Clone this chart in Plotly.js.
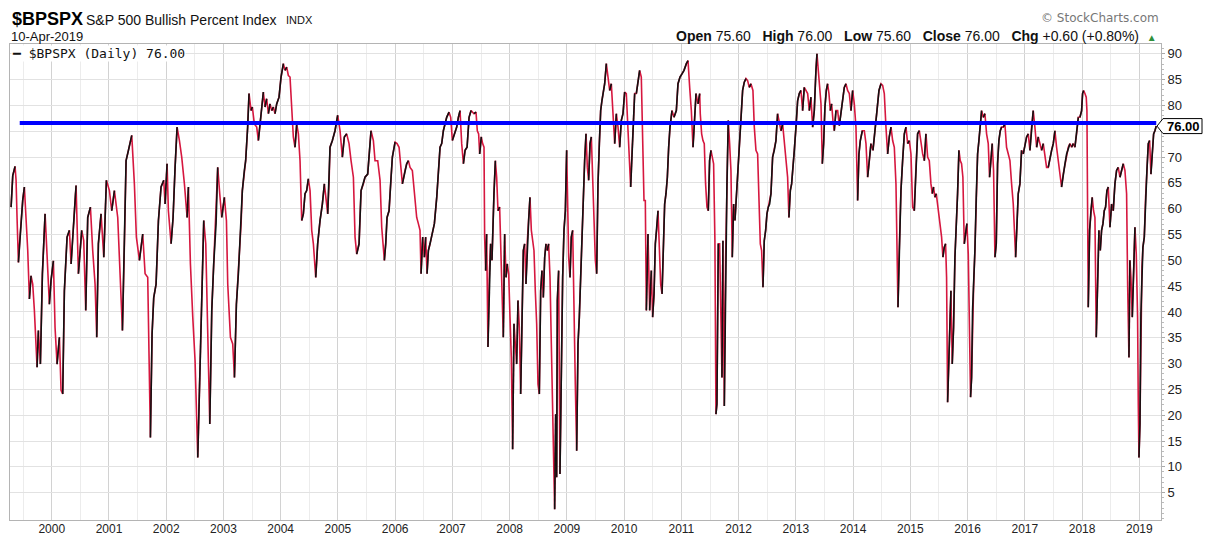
<!DOCTYPE html>
<html>
<head>
<meta charset="utf-8">
<script src="https://cdn.plot.ly/plotly-3.0.1.min.js"></script>
<style>
  html, body { margin: 0; padding: 0; background: #fff; }
  #chart { width: 1225px; height: 538px; }
</style>
</head>
<body>
<div id="chart"></div>
<script>
// $BPSPX daily values, dates as decimal years
var dates9903 = [
  1999.290,1999.319,1999.359,1999.377,1999.394,1999.418,1999.441,1999.464,1999.493,1999.522,
  1999.552,1999.581,1999.610,1999.639,1999.668,1999.697,1999.744,1999.767,1999.802,1999.837,
  1999.884,1999.918,1999.959,1999.988,2000.029,2000.058,2000.093,2000.134,2000.163,2000.192,
  2000.221,2000.268,2000.309,2000.338,2000.373,2000.425,2000.466,2000.524,2000.559,2000.594,
  2000.629,2000.676,2000.716,2000.757,2000.786,2000.815,2000.862,2000.909,2000.955,2001.008,
  2001.048,2001.095,2001.153,2001.211,2001.235,2001.270,2001.299,2001.340,2001.398,2001.444,
  2001.479,2001.532,2001.590,2001.631,2001.677,2001.724,2001.753,2001.782,2001.823,2001.864,
  2001.910,2001.957,2001.980,2002.015,2002.038,2002.085,2002.120,2002.155,2002.190,2002.231,
  2002.271,2002.318,2002.365,2002.388,2002.423,2002.464,2002.504,2002.551,2002.586,2002.621,
  2002.656,2002.691,2002.726,2002.761,2002.796,2002.830,2002.871,2002.900,2002.935,2002.970,
  2003.017,2003.052,2003.075,2003.122,2003.162,2003.192,2003.226,2003.261,2003.308
];
var bpi9903 = [
  60.3,66.4,68.2,65.5,58.3,49.6,53.8,57.4,61.6,64.2,
  57.7,51.9,42.5,47.0,45.4,40.3,29.3,36.4,29.9,47.4,
  59.0,50.6,41.5,46.1,49.9,37.0,29.9,35.1,24.8,24.1,
  44.1,54.5,55.8,49.3,55.8,64.5,47.4,55.8,53.8,40.3,
  58.3,60.3,51.9,45.4,35.1,53.2,59.0,50.6,65.5,63.5,
  59.6,63.5,58.3,44.8,36.4,53.2,69.3,71.3,74.2,64.8,
  54.5,50.0,55.1,47.4,46.7,15.7,35.7,42.8,45.4,57.7,
  64.2,65.5,60.9,68.7,59.6,53.2,58.3,68.0,75.8,73.2,
  70.0,64.8,58.3,64.2,49.3,39.0,30.6,11.8,27.3,42.8,
  57.7,53.2,31.9,18.3,40.3,49.3,57.1,68.0,62.9,58.3,
  62.2,57.7,45.4,35.1,33.8,27.3,41.5,47.4,57.1
];

var dates0307 = [
  2003.330,2003.365,2003.388,2003.423,2003.447,2003.482,2003.505,2003.540,2003.581,2003.610,
  2003.639,2003.668,2003.697,2003.726,2003.755,2003.785,2003.814,2003.843,2003.872,2003.901,
  2003.930,2003.971,2004.006,2004.047,2004.076,2004.105,2004.134,2004.163,2004.192,2004.221,
  2004.250,2004.280,2004.309,2004.338,2004.367,2004.396,2004.425,2004.454,2004.483,2004.513,
  2004.542,2004.571,2004.612,2004.646,2004.687,2004.728,2004.763,2004.786,2004.821,2004.844,
  2004.862,2004.903,2004.949,2004.996,2005.037,2005.077,2005.112,2005.153,2005.194,2005.229,
  2005.270,2005.299,2005.328,2005.369,2005.404,2005.444,2005.473,2005.520,2005.543,2005.578,
  2005.619,2005.648,2005.695,2005.736,2005.765,2005.794,2005.811,2005.835,2005.858,2005.893,
  2005.928,2005.951,2005.998,2006.033,2006.068,2006.102,2006.126,2006.172,2006.201,2006.231,
  2006.260,2006.300,2006.335,2006.376,2006.405,2006.434,2006.452,2006.481,2006.510,2006.533,
  2006.557,2006.580,2006.609,2006.638,2006.685,2006.726,2006.755,2006.784,2006.813,2006.842,
  2006.871,2006.900,2006.941,2006.970,2006.999,2007.034,2007.075,2007.104,2007.133,2007.162,
  2007.192,2007.221,2007.256,2007.291,2007.326
];
var bpi0307 = [
  63.5,67.4,69.3,75.8,82.3,79.0,79.7,76.4,75.8,73.2,
  76.4,80.6,82.6,79.7,81.3,78.4,80.3,79.0,79.7,78.4,
  80.3,81.6,85.5,88.1,86.8,87.4,85.8,85.5,79.0,73.9,
  71.9,76.4,74.5,69.3,57.7,59.0,62.9,63.5,65.8,63.5,
  55.8,53.2,46.7,53.2,57.7,60.9,64.8,62.2,59.0,64.8,
  71.9,73.2,75.1,78.1,75.1,70.0,73.9,74.5,72.6,69.3,
  66.1,54.5,51.2,53.2,63.5,64.8,66.1,66.7,70.6,75.1,
  73.2,69.3,69.3,65.5,56.4,51.9,50.0,53.2,58.3,59.6,
  66.1,70.0,72.9,72.6,71.9,67.4,64.8,67.4,68.7,69.3,
  68.0,67.4,63.5,58.3,57.1,55.8,47.4,54.5,50.6,54.5,
  47.4,51.9,53.2,54.5,57.1,62.2,68.0,71.9,72.6,75.1,
  76.4,77.7,78.7,77.7,73.2,74.5,75.8,77.7,79.0,72.6,
  68.7,71.3,71.9,77.7,79.0
];

var dates0711 = [
  2007.377,2007.412,2007.435,2007.458,2007.476,2007.505,2007.528,2007.552,2007.563,2007.581,
  2007.598,2007.621,2007.645,2007.668,2007.691,2007.709,2007.726,2007.750,2007.773,2007.796,
  2007.825,2007.843,2007.866,2007.889,2007.913,2007.936,2007.959,2007.983,2008.006,2008.029,
  2008.052,2008.076,2008.099,2008.122,2008.146,2008.169,2008.192,2008.215,2008.239,2008.262,
  2008.285,2008.309,2008.332,2008.355,2008.379,2008.402,2008.425,2008.448,2008.472,2008.495,
  2008.518,2008.542,2008.565,2008.588,2008.612,2008.635,2008.658,2008.681,2008.705,2008.728,
  2008.751,2008.769,2008.786,2008.804,2008.821,2008.833,2008.856,2008.879,2008.903,2008.926,
  2008.949,2008.973,2008.996,2009.013,2009.031,2009.054,2009.077,2009.101,2009.124,2009.147,
  2009.171,2009.194,2009.217,2009.241,2009.264,2009.287,2009.310,2009.334,2009.357,2009.380,
  2009.404,2009.427,2009.450,2009.473,2009.497,2009.520,2009.543,2009.567,2009.590,2009.613,
  2009.637,2009.660,2009.689,2009.718,2009.747,2009.776,2009.805,2009.835,2009.864,2009.893,
  2009.922,2009.951,2009.980,2010.009,2010.038,2010.068,2010.097,2010.114,2010.137,2010.161,
  2010.184,2010.213,2010.242,2010.271,2010.300,2010.330,2010.347,2010.370,2010.388,2010.417,
  2010.446,2010.475,2010.498,2010.522,2010.545,2010.568,2010.592,2010.615,2010.638,2010.662,
  2010.685,2010.708,2010.731,2010.755,2010.778,2010.801,2010.836,2010.871,2010.912,2010.941,
  2010.976,2011.011,2011.046,2011.087,2011.116,2011.145,2011.174,2011.203,2011.232,2011.256,
  2011.291,2011.320
];
var bpi0711 = [
  78.4,78.7,75.1,74.5,70.6,73.9,72.6,71.9,54.5,48.0,
  55.1,33.2,47.4,53.2,50.0,58.3,62.9,69.3,66.1,59.6,
  60.3,53.2,41.5,35.1,55.1,46.7,49.3,47.4,39.0,31.2,
  13.4,37.7,33.8,29.9,42.2,37.0,24.1,41.5,51.9,53.2,
  45.4,53.8,57.7,62.2,55.8,53.2,51.9,44.1,37.7,26.0,
  24.1,44.1,48.0,42.8,50.6,53.2,51.9,53.2,46.7,33.8,
  20.9,8.6,1.8,20.2,8.0,42.2,48.0,8.6,28.6,46.7,
  55.8,59.6,71.3,56.4,50.6,46.7,54.5,55.8,35.7,26.0,
  13.1,33.8,39.0,46.7,53.2,64.2,69.3,74.5,68.0,65.5,
  72.6,73.9,64.8,57.1,50.0,47.4,64.8,72.6,79.0,81.0,
  82.9,84.2,88.1,85.5,82.9,84.2,79.0,72.6,78.4,75.8,
  71.9,77.1,78.4,82.6,82.3,75.1,70.6,64.2,70.6,75.8,
  82.3,82.3,84.2,86.8,85.5,72.6,61.6,61.6,40.3,55.1,
  40.3,48.0,39.0,43.5,53.2,55.8,59.6,52.5,45.4,43.5,
  54.5,60.9,62.9,66.1,71.9,75.8,79.0,77.7,79.0,84.2,
  85.5,86.1,86.8,88.1,88.7,83.5,79.0,71.9,79.0,82.3,
  80.3,82.3
];

var dates1115 = [
  2011.330,2011.354,2011.377,2011.400,2011.423,2011.447,2011.470,2011.493,2011.517,2011.540,
  2011.563,2011.586,2011.604,2011.621,2011.645,2011.668,2011.691,2011.709,2011.726,2011.750,
  2011.773,2011.796,2011.819,2011.843,2011.866,2011.889,2011.913,2011.936,2011.959,2011.983,
  2012.012,2012.041,2012.070,2012.099,2012.128,2012.157,2012.186,2012.215,2012.250,2012.274,
  2012.303,2012.332,2012.355,2012.379,2012.402,2012.425,2012.448,2012.472,2012.495,2012.518,
  2012.542,2012.565,2012.594,2012.623,2012.652,2012.681,2012.711,2012.740,2012.769,2012.798,
  2012.827,2012.856,2012.879,2012.903,2012.926,2012.949,2012.973,2013.002,2013.031,2013.060,
  2013.089,2013.118,2013.147,2013.176,2013.206,2013.235,2013.264,2013.293,2013.322,2013.351,
  2013.369,2013.392,2013.415,2013.439,2013.462,2013.485,2013.508,2013.532,2013.555,2013.578,
  2013.602,2013.625,2013.648,2013.671,2013.701,2013.730,2013.759,2013.788,2013.817,2013.846,
  2013.875,2013.904,2013.934,2013.963,2013.992,2014.021,2014.050,2014.079,2014.102,2014.126,
  2014.161,2014.196,2014.225,2014.254,2014.283,2014.312,2014.347,2014.382,2014.417,2014.452,
  2014.487,2014.516,2014.545,2014.574,2014.603,2014.632,2014.662,2014.691,2014.720,2014.749,
  2014.766,2014.784,2014.801,2014.819,2014.836,2014.865,2014.895,2014.924,2014.953,2014.982,
  2015.011,2015.040,2015.069,2015.098,2015.127,2015.157,2015.186,2015.215,2015.244,2015.273,
  2015.302,2015.331,2015.360
];
var bpi1115 = [
  78.4,74.5,73.2,72.6,64.8,60.3,59.6,69.3,71.3,70.0,
  68.7,53.8,20.2,22.2,53.2,53.2,42.2,27.3,53.8,21.8,
  50.6,64.8,77.1,72.6,67.4,50.6,60.9,57.7,62.2,67.4,
  73.9,79.0,82.9,84.5,85.2,84.8,83.5,84.2,82.9,75.8,
  71.3,70.6,62.2,53.2,51.9,44.8,53.8,55.8,59.0,60.3,
  60.9,62.9,70.0,71.3,73.2,78.4,76.4,75.1,76.4,72.6,
  69.3,66.1,58.3,63.5,64.8,67.4,71.3,75.8,80.9,82.3,
  82.9,79.0,83.5,82.9,82.3,79.0,81.6,75.8,79.0,86.8,
  90.0,86.8,82.9,80.3,68.7,72.6,79.7,82.9,84.2,82.3,
  79.0,80.3,77.1,75.1,79.0,79.0,76.1,79.0,81.6,83.5,
  84.2,82.9,82.3,79.0,82.9,80.3,75.8,61.6,70.6,73.2,
  75.1,75.1,72.6,66.1,69.3,72.6,71.3,75.8,79.0,82.9,
  84.2,83.9,82.3,75.8,70.6,73.9,75.8,73.2,71.9,64.8,
  55.1,40.9,50.0,58.3,63.5,69.3,74.5,75.8,72.6,73.2,
  70.6,60.3,59.6,68.0,74.5,75.1,72.6,70.6,69.3,74.5,
  70.0,69.3,64.8
];

var dates1519 = [
  2015.383,2015.406,2015.429,2015.453,2015.476,2015.499,2015.522,2015.546,2015.569,2015.592,
  2015.616,2015.633,2015.651,2015.674,2015.691,2015.709,2015.732,2015.755,2015.779,2015.802,
  2015.825,2015.849,2015.872,2015.895,2015.918,2015.942,2015.965,2015.988,2016.012,2016.035,
  2016.052,2016.070,2016.087,2016.105,2016.128,2016.151,2016.175,2016.198,2016.221,2016.245,
  2016.274,2016.303,2016.332,2016.361,2016.384,2016.408,2016.431,2016.454,2016.478,2016.501,
  2016.524,2016.547,2016.571,2016.594,2016.623,2016.652,2016.681,2016.711,2016.740,2016.769,
  2016.798,2016.839,2016.862,2016.885,2016.914,2016.943,2016.973,2017.002,2017.031,2017.060,
  2017.089,2017.118,2017.147,2017.176,2017.206,2017.235,2017.264,2017.293,2017.322,2017.351,
  2017.380,2017.409,2017.439,2017.468,2017.497,2017.526,2017.555,2017.584,2017.613,2017.642,
  2017.671,2017.701,2017.730,2017.759,2017.788,2017.817,2017.846,2017.875,2017.904,2017.934,
  2017.963,2017.992,2018.009,2018.027,2018.050,2018.073,2018.085,2018.097,2018.108,2018.132,
  2018.155,2018.178,2018.201,2018.225,2018.248,2018.271,2018.295,2018.318,2018.341,2018.365,
  2018.388,2018.411,2018.434,2018.458,2018.487,2018.516,2018.545,2018.574,2018.603,2018.632,
  2018.662,2018.691,2018.720,2018.749,2018.778,2018.796,2018.819,2018.836,2018.854,2018.877,
  2018.900,2018.924,2018.947,2018.970,2018.982,2018.994,2019.011,2019.028,2019.046,2019.063,
  2019.087,2019.110,2019.133,2019.157,2019.180,2019.203,2019.226,2019.250,2019.273,2019.296
];
var bpi1519 = [
  62.9,64.2,62.2,62.9,60.9,58.3,55.8,54.5,50.6,52.5,
  53.2,46.7,22.5,31.9,37.0,44.1,29.9,37.0,50.6,55.8,
  62.9,71.3,69.3,68.7,66.1,53.2,55.8,57.1,51.2,31.2,
  23.5,27.3,40.3,44.8,51.9,62.2,70.6,73.2,76.4,79.0,
  77.7,78.4,74.5,72.6,66.1,70.0,72.6,67.4,50.6,53.2,
  68.7,73.2,75.1,75.8,75.8,76.4,71.9,70.6,69.3,64.8,
  60.9,50.6,58.3,62.9,64.8,71.3,70.6,72.6,73.9,74.5,
  71.3,75.8,79.0,75.8,71.9,73.9,72.6,71.3,72.6,70.6,
  68.0,68.0,70.0,71.3,72.6,75.1,71.9,69.3,67.4,64.2,
  66.7,68.7,70.6,71.9,72.6,71.9,72.6,71.9,74.5,77.7,
  77.7,79.0,82.3,82.9,82.3,81.6,79.0,61.6,40.9,55.8,
  59.6,62.2,59.6,58.3,35.1,45.4,55.8,51.9,55.8,57.1,
  59.6,60.3,63.5,64.2,56.4,60.9,59.6,64.8,67.4,68.0,
  66.1,67.4,68.7,67.4,62.9,45.4,31.2,50.0,46.7,39.0,
  48.0,56.4,51.2,39.0,22.2,11.8,18.3,39.6,48.7,52.5,
  54.5,62.2,67.4,72.6,73.2,66.7,70.6,74.5,75.1,76.0
];

var yearTicks = [2000,2001,2002,2003,2004,2005,2006,2007,2008,2009,
                 2010,2011,2012,2013,2014,2015,2016,2017,2018,2019];
var valueTicks = [5,10,15,20,25,30,35,40,45,50,55,60,65,70,75,80,85,90];

// quote line for 10-Apr-2019
var quoteDate = '10-Apr-2019';
var quoteOpen = 75.60, quoteHigh = 76.00, quoteLow = 75.60, quoteClose = 76.00;
var quoteChg = 0.60, quoteChgPct = 0.80;

// user drawn horizontal level
var levelValue = 76.6, levelStart = 1999.441;

var bpiDates = [].concat(dates9903, dates0307, dates0711, dates1115, dates1519);
var bpiValues = [].concat(bpi9903, bpi0307, bpi0711, bpi1115, bpi1519);

var xRange = [1999.271, 2019.379];
var yRange = [-0.3, 91.9];

// rising stretches are drawn black over the red line
var upX = [], upY = [];
for (var i = 1; i < bpiValues.length; i++) {
  if (bpiValues[i] > bpiValues[i - 1]) {
    if (upX.length === 0 || upX[upX.length - 1] !== bpiDates[i - 1]) {
      upX.push(null); upY.push(null);
      upX.push(bpiDates[i - 1]); upY.push(bpiValues[i - 1]);
    }
    upX.push(bpiDates[i]); upY.push(bpiValues[i]);
  }
}

var data = [
  {
    x: bpiDates, y: bpiValues, type: 'scatter', mode: 'lines',
    line: {color: '#d6173f', width: 1.6}, hoverinfo: 'skip'
  },
  {
    x: upX, y: upY, type: 'scatter', mode: 'lines', connectgaps: false,
    line: {color: '#111111', width: 1.6}, hoverinfo: 'skip'
  }
];

var arial = 'Arial, "Liberation Sans", sans-serif';
var plotLeft = 10, plotTop = 44;

function headText(text, xPx, yPx, anchor, font, extra) {
  var a = {
    text: text, xref: 'paper', yref: 'paper', x: 0, y: 1,
    xshift: xPx - plotLeft, yshift: plotTop - yPx,
    xanchor: anchor, yanchor: 'middle', showarrow: false, font: font
  };
  for (var k in extra) a[k] = extra[k];
  return a;
}

var gap = '\u00a0\u00a0 ';
var ohlcText = '<b>Open</b> ' + quoteOpen.toFixed(2) + gap + '<b>High</b> ' + quoteHigh.toFixed(2) +
  gap + '<b>Low</b> ' + quoteLow.toFixed(2) + gap + '<b>Close</b> ' + quoteClose.toFixed(2) +
  gap + '<b>Chg</b> +' + quoteChg.toFixed(2) + ' (+' + quoteChgPct.toFixed(2) + '%)\u00a0 ' +
  '<span style="color:#2f8f3a;font-size:10px">▲</span>';

var closeFrac = (quoteClose - yRange[0]) / (yRange[1] - yRange[0]);

var layout = {
  width: 1225, height: 538,
  margin: {l: 10, r: 64, t: 44, b: 18},
  paper_bgcolor: '#ffffff', plot_bgcolor: '#ffffff',
  showlegend: false,
  hovermode: false,
  font: {family: arial, size: 13, color: '#222'},
  xaxis: {
    range: xRange, tickmode: 'array', tickvals: yearTicks,
    ticktext: yearTicks.map(String), ticks: '', ticklabelstandoff: -2,
    showgrid: true, gridcolor: '#d2d2d2', gridwidth: 1,
    minor: {tickmode: 'linear', tick0: 1999.5, dtick: 1, showgrid: true, gridcolor: '#ececec'},
    showline: true, linecolor: '#b4b4b4', linewidth: 1, mirror: true, zeroline: false,
    tickfont: {family: arial, size: 12, color: '#222'}
  },
  yaxis: {
    side: 'right', range: yRange, tickmode: 'array', tickvals: valueTicks,
    // the 75 label sits under the last-value box
    ticktext: valueTicks.map(function (v) { return v === 75 ? '' : String(v); }),
    ticks: 'outside', ticklen: 3, tickcolor: '#aaaaaa',
    minor: {dtick: 1, ticks: 'outside', ticklen: 2, tickcolor: '#bbbbbb', showgrid: false},
    showgrid: true, gridcolor: '#e2e2e2', gridwidth: 1,
    showline: true, linecolor: '#b4b4b4', linewidth: 1, mirror: true, zeroline: false,
    tickfont: {family: arial, size: 13, color: '#222'}
  },
  shapes: [
    {
      type: 'line', xref: 'x', yref: 'y', x0: levelStart, x1: bpiDates[bpiDates.length - 1],
      y0: levelValue, y1: levelValue, line: {color: '#0000ff', width: 4}
    },
    {
      type: 'path', xref: 'paper', yref: 'paper', xsizemode: 'pixel', ysizemode: 'pixel',
      xanchor: 1, yanchor: closeFrac,
      path: 'M-4,0 L2,7.5 L41,7.5 L41,-7.5 L2,-7.5 Z',
      fillcolor: '#ffffff', line: {color: '#000000', width: 1}
    }
  ],
  annotations: [
    headText('<b>$BPSPX</b>', 10, 19, 'left', {family: arial, size: 18, color: '#000'}),
    headText('S&amp;P 500 Bullish Percent Index', 84, 20, 'left', {family: arial, size: 14, color: '#111'}),
    headText('INDX', 284, 20, 'left', {family: arial, size: 11, color: '#111'}),
    headText(quoteDate, 9, 36, 'left', {family: arial, size: 13, color: '#111'}),
    headText('© StockCharts.com', 1161, 18, 'right', {family: '"DejaVu Sans", Verdana, sans-serif', size: 12, color: '#777'}),
    headText(ohlcText, 1159, 36, 'right', {family: arial, size: 14, color: '#111'}),
    headText('━ $BPSPX (Daily) ' + quoteClose.toFixed(2), 11, 53, 'left',
      {family: '"DejaVu Sans Mono", monospace', size: 13, color: '#111'},
      {bgcolor: '#ffffff', borderpad: 0}),
    {
      text: '<b>' + quoteClose.toFixed(2) + '</b>', xref: 'paper', yref: 'y',
      x: 1, y: quoteClose, xshift: 22, xanchor: 'center', yanchor: 'middle',
      showarrow: false, font: {family: arial, size: 13, color: '#000'}
    }
  ]
};

Plotly.newPlot('chart', data, layout, {staticPlot: true, displaylogo: false});
</script>
</body>
</html>
